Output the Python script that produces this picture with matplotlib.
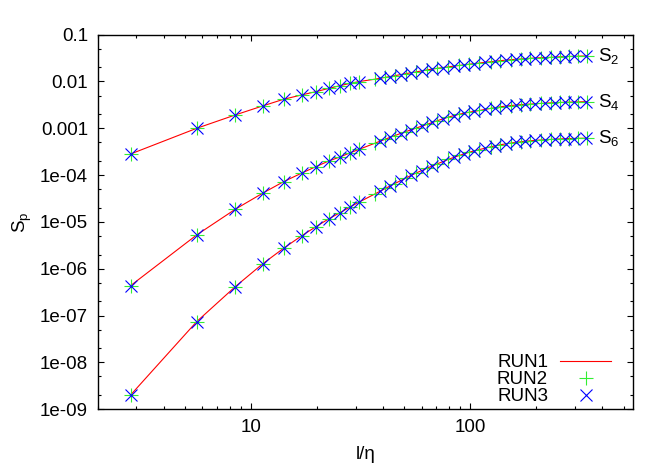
# Structure functions S_p vs l/eta for three runs (log-log)

import matplotlib
matplotlib.use('Agg')
import matplotlib.pyplot as plt
from matplotlib.ticker import LogLocator, NullFormatter

plt.rcParams['font.family'] = ['Liberation Sans', 'DejaVu Sans']
plt.rcParams['mathtext.fontset'] = 'custom'
plt.rcParams['mathtext.rm'] = 'Liberation Sans'
plt.rcParams['mathtext.it'] = 'Liberation Sans:italic'

# Data
# small separations: same for every run
small_x = [2.83, 5.66, 8.49, 11.3, 14.1, 17.0, 19.8, 22.6, 25.5, 28.3, 31.1]
s2_small = [2.83e-4, 1.00e-3, 1.93e-3, 3.00e-3, 4.17e-3, 5.15e-3, 6.07e-3, 7.10e-3, 8.15e-3, 9.10e-3, 9.95e-3]
s4_small = [4.37e-7, 5.28e-6, 1.87e-5, 4.10e-5, 7.26e-5, 1.10e-4, 1.52e-4, 2.00e-4, 2.45e-4, 2.99e-4, 3.55e-4]
s6_small = [2.02e-9, 7.43e-8, 4.16e-7, 1.27e-6, 2.75e-6, 5.03e-6, 7.95e-6, 1.16e-5, 1.58e-5, 2.09e-5, 2.65e-5]

# RUN2 (and RUN1 line) at larger separations
run2_xl = [36.8, 41.0, 45.3, 50.9, 56.6, 63.6, 70.7, 79.2, 89.1, 99.0, 110, 124, 137, 153,
           170, 187, 209, 232, 255, 283, 311, 340]
run2_s2 = [0.0112, 0.01225, 0.0133, 0.01472, 0.0160, 0.01766, 0.0191, 0.0205, 0.0220, 0.0234,
           0.0248, 0.0264, 0.0278, 0.0292, 0.0303, 0.0313, 0.0321, 0.0328, 0.0336, 0.0342, 0.0347, 0.0351]
run2_s4 = [4.82e-4, 5.86e-4, 7.01e-4, 8.51e-4, 1.01e-3, 1.22e-3, 1.45e-3, 1.73e-3, 2.00e-3, 2.21e-3,
           2.40e-3, 2.67e-3, 2.88e-3, 3.06e-3, 3.20e-3, 3.29e-3, 3.40e-3, 3.49e-3, 3.56e-3, 3.62e-3, 3.66e-3, 3.71e-3]
run2_s6 = [3.98e-5, 5.19e-5, 6.61e-5, 8.71e-5, 1.11e-4, 1.41e-4, 1.74e-4, 2.16e-4, 2.63e-4, 3.09e-4,
           3.51e-4, 4.03e-4, 4.45e-4, 4.84e-4, 5.16e-4, 5.40e-4, 5.62e-4, 5.79e-4, 5.92e-4, 6.03e-4, 6.10e-4, 6.14e-4]

# RUN3 at larger separations
run3_xl = [38.9, 43.1, 48.1, 53.7, 60.1, 67.2, 74.9, 84.1, 94.0, 104, 117, 130, 145, 161,
           178, 198, 220, 243, 269, 297, 338]
run3_s2 = [0.01172, 0.01276, 0.0140, 0.01538, 0.01683, 0.01837, 0.01977, 0.02128, 0.02275, 0.02415,
           0.02564, 0.0271, 0.0285, 0.0298, 0.0308, 0.0317, 0.0324, 0.0332, 0.0339, 0.0344, 0.0351]
run3_s4 = [5.31e-4, 6.41e-4, 7.73e-4, 9.29e-4, 1.11e-3, 1.33e-3, 1.58e-3, 1.85e-3, 2.10e-3, 2.31e-3,
           2.54e-3, 2.77e-3, 2.97e-3, 3.13e-3, 3.24e-3, 3.34e-3, 3.44e-3, 3.52e-3, 3.59e-3, 3.65e-3, 3.71e-3]
run3_s6 = [4.54e-5, 5.85e-5, 7.59e-5, 9.82e-5, 1.25e-4, 1.57e-4, 1.94e-4, 2.38e-4, 2.85e-4, 3.29e-4,
           3.76e-4, 4.23e-4, 4.63e-4, 5.00e-4, 5.27e-4, 5.51e-4, 5.70e-4, 5.85e-4, 5.97e-4, 6.05e-4, 6.14e-4]

curve_names = [r'S$_\mathrm{2}$', r'S$_\mathrm{4}$', r'S$_\mathrm{6}$']
run_names = ['RUN1', 'RUN2', 'RUN3']
ytick_vals = [1e-9, 1e-8, 1e-7, 1e-6, 1e-5, 1e-4, 1e-3, 1e-2, 1e-1]
ytick_labels = ['1e-09', '1e-08', '1e-07', '1e-06', '1e-05', '1e-04', '0.001', '0.01', '0.1']
xtick_vals = [10, 100]
xtick_labels = ['10', '100']

run2_x = small_x + run2_xl
run3_x = small_x + run3_xl
run2_curves = [s2_small + run2_s2, s4_small + run2_s4, s6_small + run2_s6]
run3_curves = [s2_small + run3_s2, s4_small + run3_s4, s6_small + run3_s6]

fs = 13.5

fig = plt.figure(figsize=(6.64, 4.65), dpi=100)
ax = fig.add_axes([0.147, 0.120, 0.806, 0.8055])

for i in range(3):
    l1, = ax.plot(run2_x, run2_curves[i], color='red', lw=0.8)
    l2, = ax.plot(run2_x, run2_curves[i], ls='none', marker='+', ms=9.5, mew=0.8, color='#33ee33')
    l3, = ax.plot(run3_x, run3_curves[i], ls='none', marker='x', ms=8.5, mew=0.8, color='blue')
    if i == 0:
        handles = [l1, l2, l3]
    ax.annotate(curve_names[i], xy=(run3_x[-1], run3_curves[i][-1]), xytext=(8, 0),
                textcoords='offset points', va='center', ha='left', fontsize=fs)

ax.set_xscale('log')
ax.set_yscale('log')
ax.set_xlim(2, 550)
ax.set_ylim(1e-9, 0.1)

ax.set_xticks(xtick_vals)
ax.set_xticklabels(xtick_labels)
ax.xaxis.set_minor_locator(LogLocator(base=10, subs=[2, 3, 4, 5, 6, 7, 8, 9]))
ax.xaxis.set_minor_formatter(NullFormatter())
ax.set_yticks(ytick_vals)
ax.set_yticklabels(ytick_labels)
ax.yaxis.set_minor_locator(LogLocator(base=10, subs=[2, 5], numticks=20))
ax.yaxis.set_minor_formatter(NullFormatter())

ax.tick_params(which='both', direction='in', top=True, right=True, labelsize=fs, width=0.8)
ax.tick_params(which='major', length=4.5, pad=7)
ax.tick_params(which='minor', length=2.2)
for sp in ax.spines.values():
    sp.set_linewidth(1.0)

ax.set_xlabel('l/η', fontsize=fs, labelpad=7)
ax.set_ylabel(r'S$_\mathrm{p}$', fontsize=fs, labelpad=4)

ax.legend(handles, run_names, loc='lower right', bbox_to_anchor=(0.959, 0.01),
          frameon=False, markerfirst=False, fontsize=fs, handlelength=2.7,
          handletextpad=0.65, labelspacing=0.0, borderpad=0, borderaxespad=0)

fig.savefig('out.png', dpi=100)
